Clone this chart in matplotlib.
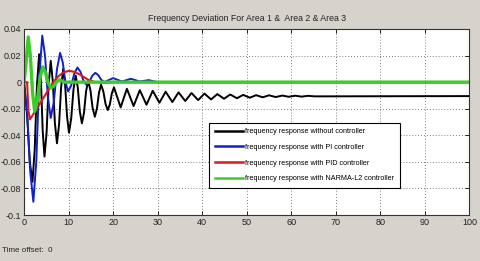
import matplotlib
matplotlib.use('Agg')
import matplotlib.pyplot as plt

# values
t_none = [0, 0.7, 1.3, 1.9, 2.4, 2.9, 3.4, 3.8, 4.2, 4.6, 5.07, 5.53, 6.0, 6.47, 6.93, 7.4,
          7.87, 8.33, 8.8, 9.23, 9.67, 10.1, 10.6, 11.1, 11.6, 12.07, 12.53, 13.0, 13.47,
          13.93, 14.4, 14.9, 15.4, 15.9, 16.37, 16.83, 17.3, 17.8, 18.3, 18.8, 19.27,
          19.73, 20.2, 21.7, 23.1, 24.6, 26.0, 27.5, 28.9, 30.4, 31.8, 33.3, 34.7, 36.2,
          37.6, 39.1, 40.5, 42.0, 43.4, 44.9, 46.3, 47.8, 49.2, 50.7, 52.1, 53.6, 55.0,
          56.5, 58.0, 59.4, 60.9, 62.3, 63.8, 65.2, 100]
f_none = [0, -0.025, -0.06, -0.075, -0.051, -0.003, 0.021, 0.002, -0.037, -0.056, -0.038,
          -0.002, 0.016, 0.0005, -0.0305, -0.046, -0.032, -0.004, 0.010, -0.002, -0.026,
          -0.038, -0.0273, -0.0058, 0.005, -0.004, -0.022, -0.031, -0.023, -0.007, 0.001,
          -0.0058, -0.0193, -0.026, -0.020, -0.008, -0.002, -0.0068, -0.0163, -0.021,
          -0.0168, -0.0083, -0.004, -0.019, -0.005, -0.018, -0.006, -0.017, -0.0065,
          -0.0155, -0.0072, -0.015, -0.0077, -0.0142, -0.0082, -0.0135, -0.0086, -0.013,
          -0.009, -0.0125, -0.0093, -0.0121, -0.0096, -0.0117, -0.0098, -0.0114, -0.0099,
          -0.0112, -0.0101, -0.011, -0.0102, -0.0109, -0.0103, -0.0107, -0.0105]

t_pi = [0, 0.7, 1.4, 2.1, 2.77, 3.43, 4.1, 4.73, 5.37, 6.0, 6.7, 7.4, 8.1, 8.7, 9.3, 9.9,
        10.6, 11.3, 12.0, 12.67, 13.33, 14.0, 14.67, 15.33, 16.0, 16.67, 17.33, 18.0,
        19.0, 20.0, 22, 24, 26, 28, 30, 100]
f_pi = [0, -0.0225, -0.0675, -0.090, -0.059, 0.004, 0.035, 0.0195, -0.0115, -0.027,
        -0.0148, 0.0098, 0.022, 0.0148, 0.0003, -0.007, -0.0025, 0.0065, 0.011, 0.0078,
        0.0013, -0.002, 0.00025, 0.00475, 0.007, 0.0053, 0.0018, 0.0, 0.0015, 0.003,
        0.0005, 0.0025, 0.0005, 0.0015, 0.0, 0.0]

t_pid = [0, 0.7, 1.0, 1.35, 2.1, 3.6, 4.7, 5.8, 6.8, 7.7, 8.8, 10.0, 11.3, 12.6, 14.4,
         16.0, 18.0, 20, 100]
f_pid = [0, 0, -0.022, -0.028, -0.024, -0.016, -0.010, -0.004, 0.001, 0.0043, 0.0072,
         0.0085, 0.0078, 0.0056, 0.0018, 0.0, -0.0005, 0.0, 0.0]

t_narma = [0, 0.4, 0.95, 1.43, 1.92, 2.4, 3.0, 3.6, 4.2, 4.8, 5.4, 6.0, 6.67, 7.33, 8.0,
           9.0, 100]
f_narma = [0, 0.012, 0.034, 0.020, -0.008, -0.022, -0.0136, 0.0031, 0.0115, 0.0075,
           -0.0004, -0.0044, -0.0029, 0.0003, 0.0018, 0.0, 0.0]

labels = ['frequency response without controller',
          'frequency response with PI controller',
          'frequency response with PID controller',
          'frequency response with NARMA-L2 controller']

font = ['Liberation Sans Narrow', 'Liberation Sans', 'DejaVu Sans']
plt.rcParams['font.family'] = font

bg = '#d6d3cc'
fig = plt.figure(figsize=(4.8, 2.61), dpi=100, facecolor=bg)
ax = fig.add_axes([0.05, 0.176, 0.928, 0.713])
ax.set_facecolor('white')

ax.plot(t_none, f_none, color='black', lw=1.4, label=labels[0])
ax.plot(t_pi, f_pi, color='#1020d0', lw=1.4, label=labels[1])
ax.plot(t_pid, f_pid, color='#e01818', lw=1.5, label=labels[2])
ax.plot(t_narma, f_narma, color='#3ccc28', lw=2.4, label=labels[3])

ax.set_xlim(0, 100)
ax.set_ylim(-0.1, 0.04)
ax.set_xticks(range(0, 101, 10))
ax.set_yticks([0.04, 0.02, 0, -0.02, -0.04, -0.06, -0.08, -0.1])
ax.set_yticklabels(['0.04', '0.02', '0', '-0.02', '-0.04', '-0.06', '-0.08', '-0.1'])
ax.tick_params(direction='in', length=3, width=0.7, labelsize=6.5, top=True, right=True,
               pad=2, colors='#222222')
ax.grid(True, linestyle=(0, (1, 2.5)), color='#555555', lw=0.6)
for s in ax.spines.values():
    s.set_color('#333333')
    s.set_linewidth(0.8)

ax.set_title('Frequency Deviation For Area 1 &  Area 2 & Area 3', fontsize=6.3, pad=6,
             color='#222222')

leg = ax.legend(loc='upper left', bbox_to_anchor=(0.416, 0.496), borderaxespad=0,
                fontsize=5.2, handlelength=3.9, handletextpad=0.35, labelspacing=1.2,
                borderpad=0.75, fancybox=False, framealpha=1)
leg.get_frame().set_edgecolor('black')
leg.get_frame().set_linewidth(0.8)
for line in leg.get_lines():
    line.set_linewidth(1.8)

fig.text(0.004, 0.034, 'Time offset:  0', fontsize=5.8, color='#222222')

fig.savefig('out.png', dpi=100, facecolor=bg)
